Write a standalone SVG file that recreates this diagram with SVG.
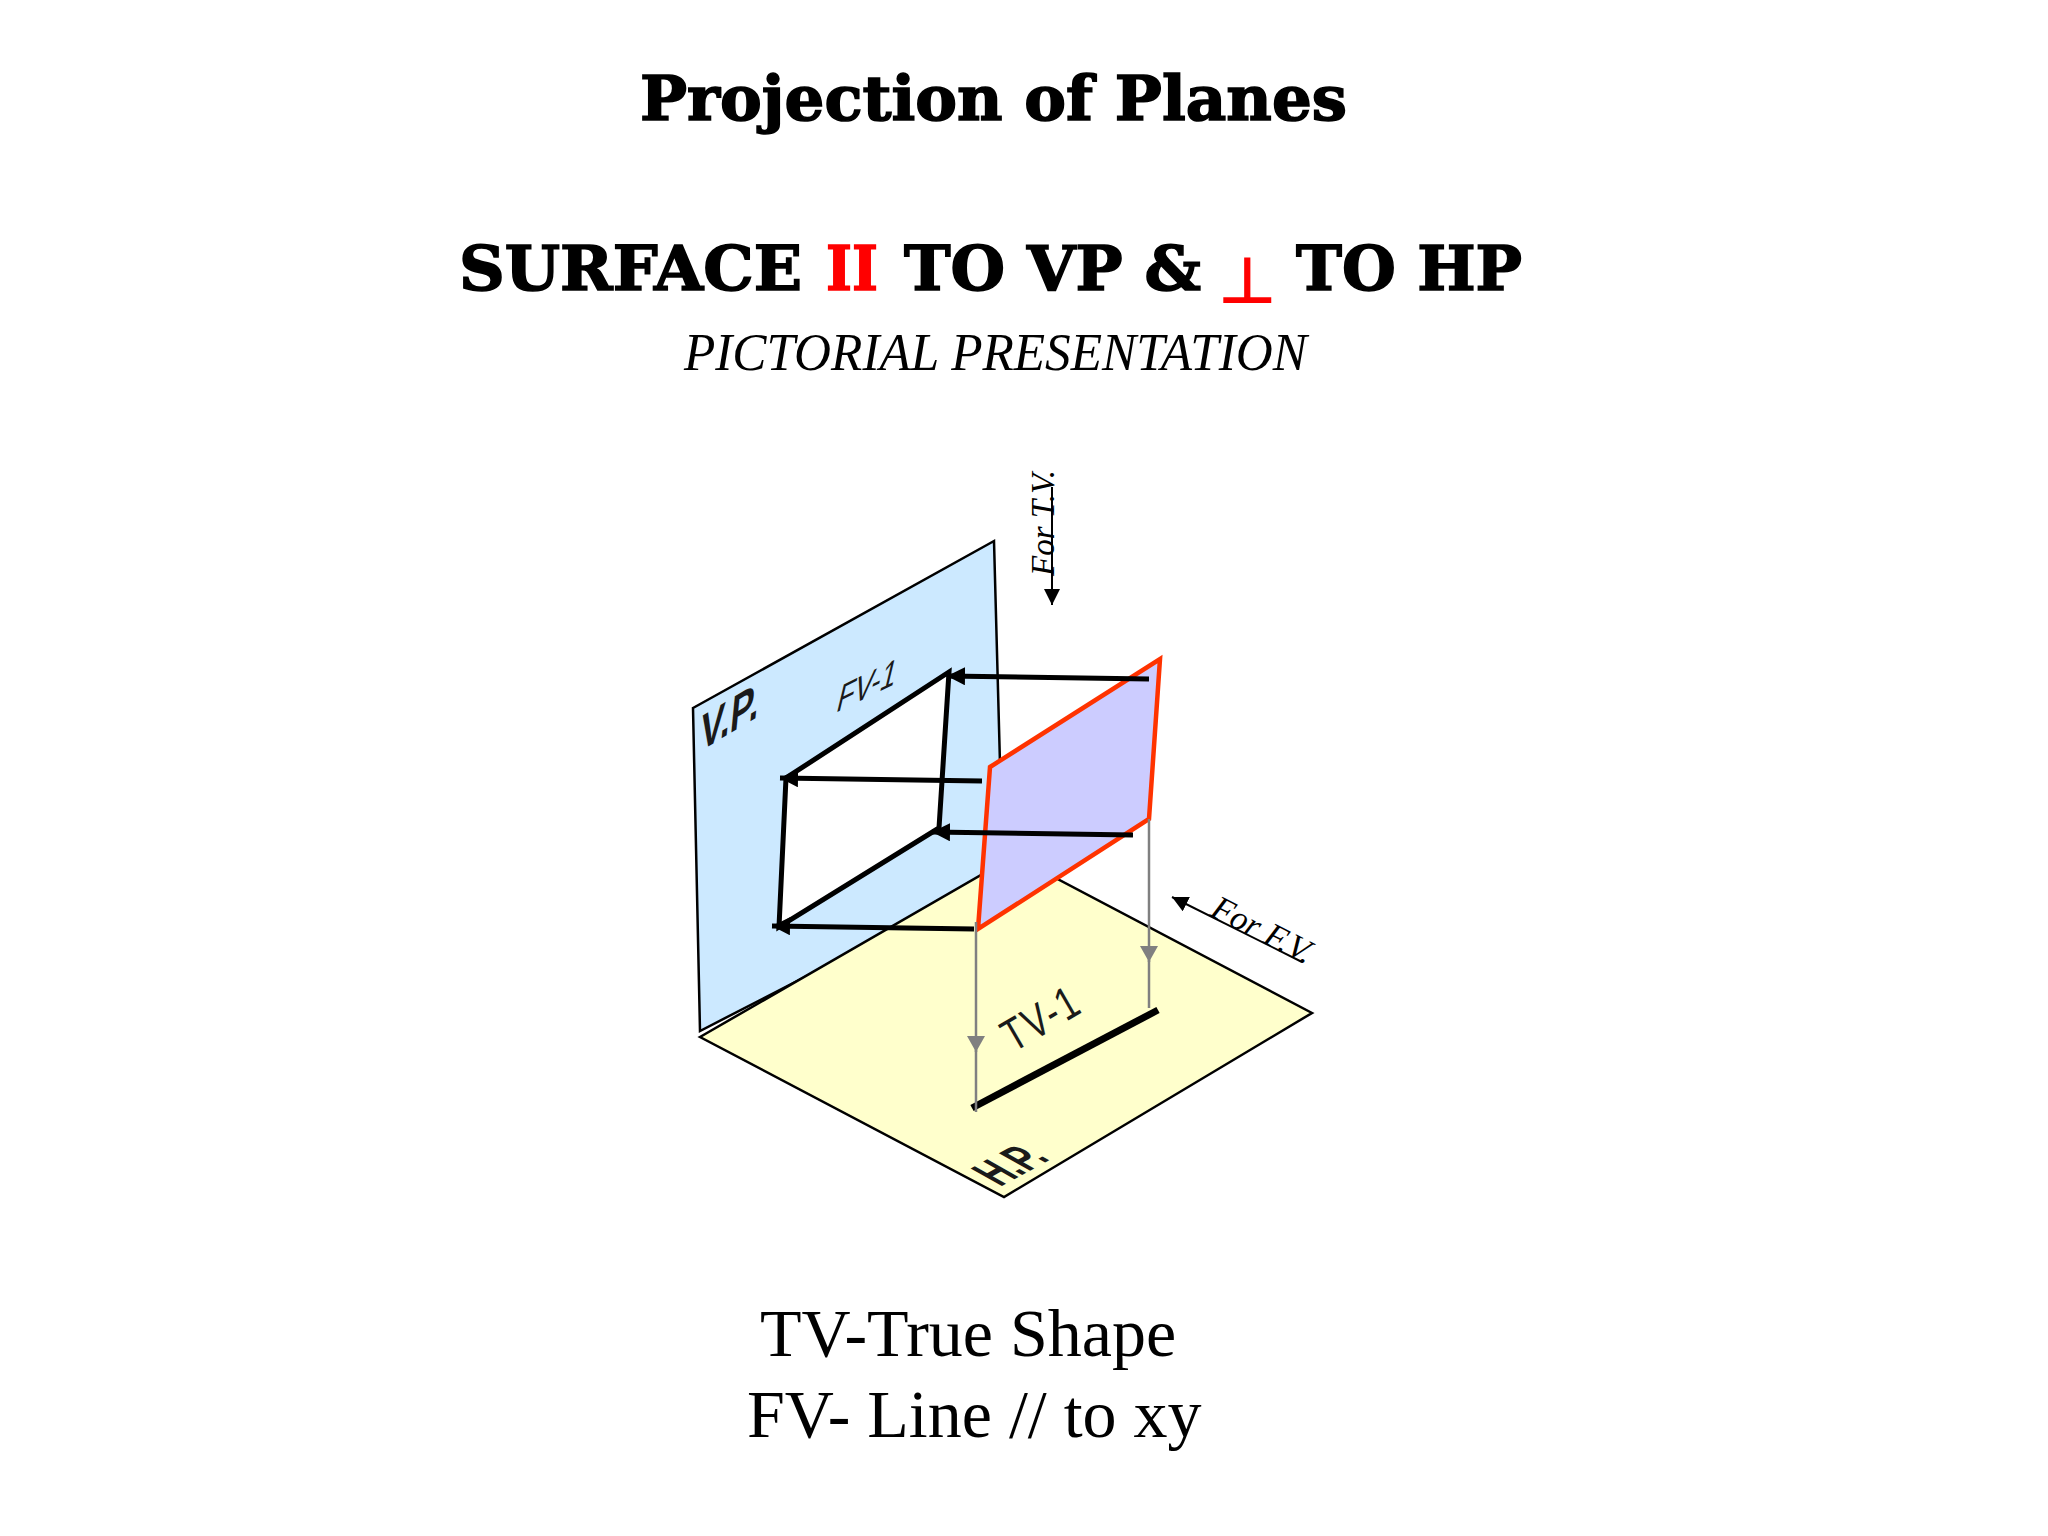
<svg xmlns="http://www.w3.org/2000/svg" width="2048" height="1536" viewBox="0 0 2048 1536">
<style>
.t{font-family:"DejaVu Serif","Liberation Serif",serif;font-weight:700;font-size:62px;fill:#000;stroke:#000;stroke-width:1.6}
.r{fill:#f00;stroke:#f00}
.s{font-family:"Liberation Serif",serif;fill:#000}
.i{font-style:italic}
.a{font-family:"Liberation Sans",Arial,sans-serif;font-size:32px;fill:#1a1a1a}
.b{font-weight:700}
.e{stroke:#000;stroke-width:2.5;stroke-linejoin:miter}
.k{stroke:#000;stroke-width:5;fill:none}
.n{stroke:#000;stroke-width:2;fill:none}
.g{stroke:#808080;stroke-width:2.5;fill:none}
</style>
<defs>
<marker id="ak" markerUnits="userSpaceOnUse" markerWidth="18" markerHeight="18" refX="18" refY="9" orient="auto"><path d="M0,0L18,9L0,18z" fill="#000"/></marker>
<marker id="as" markerUnits="userSpaceOnUse" markerWidth="16" markerHeight="16" refX="16" refY="8" orient="auto"><path d="M0,0L16,8L0,16z" fill="#000"/></marker>
<marker id="ag" markerUnits="userSpaceOnUse" markerWidth="16" markerHeight="18" refX="16" refY="9" orient="auto"><path d="M0,0L16,9L0,18z" fill="#808080"/></marker>
</defs>
<rect width="2048" height="1536" fill="#fff"/>
<g id="titles">
<text class="t" x="640" y="120" textLength="707" lengthAdjust="spacingAndGlyphs">Projection of Planes</text>
<text class="t" x="459" y="290" textLength="343" lengthAdjust="spacingAndGlyphs">SURFACE</text>
<text class="t r" x="826" y="290" textLength="52" lengthAdjust="spacingAndGlyphs">II</text>
<text class="t" x="904" y="290" textLength="297" lengthAdjust="spacingAndGlyphs">TO VP &amp;</text>
<text class="r" x="1219" y="302" font-family="DejaVu Sans,sans-serif" font-size="62" stroke-width="2" textLength="57" lengthAdjust="spacingAndGlyphs">⊥</text>
<text class="t" x="1296" y="290" textLength="226" lengthAdjust="spacingAndGlyphs">TO HP</text>
<text class="s i" x="684" y="370" font-size="52" textLength="623" lengthAdjust="spacingAndGlyphs">PICTORIAL PRESENTATION</text>
</g>
<g id="vp"><polygon class="e" points="693,708 994,541 1003,875 700,1031" fill="#CCE9FF"/></g>
<g id="hp"><polygon class="e" points="700,1037 1014,856 1312,1013 1004,1197" fill="#FFFFCC"/></g>
<g id="fv"><polygon points="949,672 939,828 779,927 786,778" fill="#fff" stroke="#000" stroke-width="5"/></g>
<g id="surface"><polygon points="990,767 1160,659 1149,819 978,929" fill="#CCCCFF" stroke="#FF3300" stroke-width="4.5"/></g>
<g id="tv"><line x1="972" y1="1108" x2="1158" y2="1010" stroke="#000" stroke-width="7"/></g>
<g id="connectors">
<line class="k" x1="1149" y1="679" x2="947" y2="676" marker-end="url(#ak)"/>
<line class="k" x1="982" y1="781" x2="780" y2="778" marker-end="url(#ak)"/>
<line class="k" x1="1133" y1="835" x2="932" y2="832" marker-end="url(#ak)"/>
<line class="k" x1="974" y1="929" x2="772" y2="926" marker-end="url(#ak)"/>
<line class="g" x1="976" y1="922" x2="976" y2="1052" marker-end="url(#ag)"/>
<line class="g" x1="976" y1="1050" x2="976" y2="1112"/>
<line class="g" x1="1149" y1="819" x2="1149" y2="962" marker-end="url(#ag)"/>
<line class="g" x1="1149" y1="960" x2="1149" y2="1008"/>
<line class="n" x1="1052" y1="487" x2="1052" y2="605" marker-end="url(#as)"/>
<line class="n" x1="1302" y1="962" x2="1172" y2="897" marker-end="url(#as)"/>
</g>
<g id="labels">
<text class="s i" font-size="33" transform="translate(1054,576) rotate(-90)">For T.V.</text>
<text class="s i" font-size="34" transform="translate(1209,915) rotate(27)">For F.V.</text>
<text class="a b" transform="matrix(1.1 -.66 -.16 1.65 699 752)">V.P.</text>
<text class="a" transform="matrix(.87 -.42 -.3 1.25 835 713)">FV-1</text>
<text class="a" letter-spacing="2" transform="matrix(.95 -.56 .72 1.24 1013 1053)">TV-1</text>
<text class="a b" transform="matrix(.88 -.48 1.42 .8 1000 1187)">H.P.</text>
<text class="s" font-size="68" x="760" y="1356">TV-True Shape</text>
<text class="s" font-size="68" x="747" y="1437">FV- Line // to xy</text>
</g>
</svg>
